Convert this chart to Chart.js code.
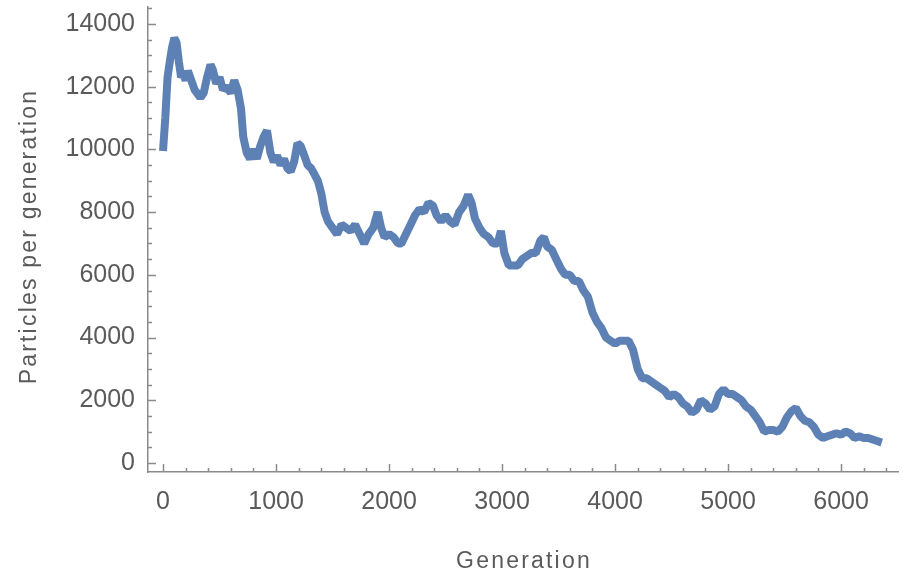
<!DOCTYPE html>
<html>
<head>
<meta charset="utf-8">
<title>Particles per generation</title>
<script src="https://cdn.jsdelivr.net/npm/chart.js@4/dist/chart.umd.min.js"></script>
<style>
  html, body { margin: 0; padding: 0; background: #fff; }
</style>
</head>
<body>
<canvas id="myChart" width="903" height="576"></canvas>
<script>
// generation numbers and particle counts read along the run
const generations = [
    0, 20, 40, 60, 80, 100, 120, 140, 160, 180, 200, 220, 250, 280, 300, 330, 360, 390, 420, 440,
    470, 500, 530, 560, 600, 630, 660, 690, 710, 740, 770, 800, 830, 860, 890, 920, 950, 980, 1010, 1040,
    1070, 1100, 1130, 1160, 1190, 1220, 1250, 1280, 1310, 1340, 1370, 1400, 1430, 1460, 1500, 1540, 1580, 1620, 1660, 1700,
    1740, 1780, 1820, 1860, 1900, 1930, 1960, 2000, 2040, 2080, 2110, 2150, 2190, 2230, 2270, 2310, 2350, 2390, 2420, 2460,
    2500, 2540, 2580, 2620, 2660, 2700, 2730, 2760, 2800, 2840, 2880, 2920, 2960, 2990, 3020, 3060, 3100, 3140, 3180, 3220,
    3260, 3300, 3340, 3370, 3400, 3440, 3480, 3520, 3560, 3600, 3640, 3680, 3720, 3760, 3800, 3840, 3880, 3920, 3960, 4000,
    4040, 4080, 4120, 4160, 4200, 4240, 4280, 4320, 4360, 4400, 4440, 4480, 4520, 4560, 4600, 4640, 4680, 4720, 4760, 4800,
    4840, 4880, 4920, 4960, 5000, 5040, 5080, 5120, 5160, 5200, 5240, 5280, 5320, 5360, 5400, 5440, 5480, 5520, 5560, 5600,
    5640, 5680, 5720, 5760, 5800, 5840, 5880, 5920, 5960, 6000, 6040, 6080, 6120, 6160, 6200, 6240, 6280, 6320, 6360
];
const particles = [
    9950, 11000, 12300, 12800, 13250, 13550, 13400, 12800, 12300, 12400, 12200, 12500, 12200, 11900, 11800, 11650, 11800, 12300, 12700, 12550,
    12100, 12300, 11900, 12000, 11800, 12200, 11900, 11300, 10400, 9900, 9700, 10000, 9700, 10100, 10400, 10600, 9900, 9600, 9800, 9500,
    9700, 9400, 9300, 9600, 10200, 10100, 9800, 9500, 9400, 9200, 9000, 8600, 8000, 7700, 7500, 7300, 7600, 7500, 7400, 7600,
    7300, 7000, 7300, 7500, 8000, 7500, 7200, 7300, 7200, 7000, 7000, 7300, 7600, 7900, 8100, 8000, 8300, 8200, 7900, 7700,
    7900, 7700, 7600, 8000, 8200, 8550, 8300, 7800, 7500, 7300, 7200, 7000, 7000, 7400, 6700, 6300, 6300, 6300, 6500, 6600,
    6700, 6700, 7100, 7200, 6900, 6800, 6500, 6200, 6000, 6000, 5800, 5800, 5500, 5300, 4800, 4500, 4300, 4000, 3900, 3800,
    3900, 3900, 3900, 3600, 3000, 2700, 2700, 2600, 2500, 2400, 2300, 2100, 2200, 2100, 1900, 1800, 1600, 1700, 2000, 1900,
    1700, 1800, 2200, 2350, 2200, 2200, 2100, 2000, 1800, 1700, 1500, 1300, 1000, 1050, 1050, 1000, 1150, 1450, 1650, 1750,
    1500, 1350, 1300, 1150, 900, 800, 850, 900, 950, 900, 1000, 950, 800, 850, 800, 800, 750, 700, 650
];

// labelled ticks
const xTicks = [0, 1000, 2000, 3000, 4000, 5000, 6000];
const yTicks = [0, 2000, 4000, 6000, 8000, 10000, 12000, 14000];
const xMinorStep = 200;
const yMinorStep = 500;

const xTitle = 'Generation';
const yTitle = 'Particles per generation';

const axisColor = '#8a8a8a';
const labelColor = '#5a5a5a';
const lineColor = '#5e81b5';
const fontFamily = "'Liberation Sans', Arial, sans-serif";

// inward pointing major/minor ticks, like the classic plot frame
const innerTicks = {
    id: 'innerTicks',
    afterDatasetsDraw(chart) {
        const ctx = chart.ctx;
        const xs = chart.scales.x;
        const ys = chart.scales.y;
        const left = chart.chartArea.left;
        const bottom = chart.chartArea.bottom;
        ctx.save();
        ctx.strokeStyle = axisColor;
        ctx.lineWidth = 1.5;
        ctx.beginPath();
        for (let v = 0; v <= xs.max; v += xMinorStep) {
            const px = Math.round(xs.getPixelForValue(v)) + 0.5;
            const len = xTicks.includes(v) ? 8 : 4;
            ctx.moveTo(px, bottom);
            ctx.lineTo(px, bottom - len);
        }
        for (let v = 0; v <= ys.max; v += yMinorStep) {
            const py = Math.round(ys.getPixelForValue(v)) + 0.5;
            const len = yTicks.includes(v) ? 8 : 4;
            ctx.moveTo(left, py);
            ctx.lineTo(left + len, py);
        }
        ctx.stroke();
        ctx.restore();
    }
};

// axis titles are set loosely spaced, so they are drawn here instead of by the scales
const axisTitles = {
    id: 'axisTitles',
    afterDraw(chart) {
        const ctx = chart.ctx;
        const area = chart.chartArea;
        ctx.save();
        ctx.font = '23px ' + fontFamily;
        ctx.fillStyle = labelColor;
        ctx.letterSpacing = '2.2px';
        ctx.textAlign = 'center';
        ctx.textBaseline = 'alphabetic';
        ctx.fillText(xTitle, (area.left + area.right) / 2 + 1, chart.height - 8);
        ctx.translate(36, (area.top + area.bottom) / 2 - 2);
        ctx.rotate(-Math.PI / 2);
        ctx.fillText(yTitle, 1, 0);
        ctx.restore();
    }
};

const tickFont = { family: fontFamily, size: 25 };
const plain = v => String(v);

const myChart = new Chart(document.getElementById('myChart'), {
    type: 'line',
    data: {
        datasets: [{
            data: generations.map((g, i) => ({ x: g, y: particles[i] })),
            borderColor: lineColor,
            borderWidth: 8,
            borderJoinStyle: 'bevel',
            pointRadius: 0,
            tension: 0,
            fill: false
        }]
    },
    options: {
        responsive: false,
        animation: false,
        devicePixelRatio: 1,
        layout: { padding: { top: 7, right: 5, left: 0, bottom: 0 } },
        plugins: { legend: { display: false }, tooltip: { enabled: false } },
        scales: {
            x: {
                type: 'linear',
                min: -133,
                max: 6504,
                afterBuildTicks: s => { s.ticks = xTicks.map(v => ({ value: v })); },
                afterFit: s => { s.height = 104; s.paddingLeft = 0; s.paddingRight = 0; },
                grid: { display: false, drawTicks: false },
                border: { display: true, color: axisColor, width: 1.5 },
                ticks: { color: labelColor, font: tickFont, padding: 15, maxRotation: 0, autoSkip: false, callback: plain }
            },
            y: {
                min: -287,
                max: 14540,
                afterBuildTicks: s => { s.ticks = yTicks.map(v => ({ value: v })); },
                afterFit: s => { s.width = 148; s.paddingTop = 0; s.paddingBottom = 0; },
                grid: { display: false, drawTicks: false },
                border: { display: true, color: axisColor, width: 1.5 },
                ticks: { color: labelColor, font: tickFont, padding: 13, autoSkip: false, callback: plain }
            }
        }
    },
    plugins: [innerTicks, axisTitles]
});
</script>
</body>
</html>
